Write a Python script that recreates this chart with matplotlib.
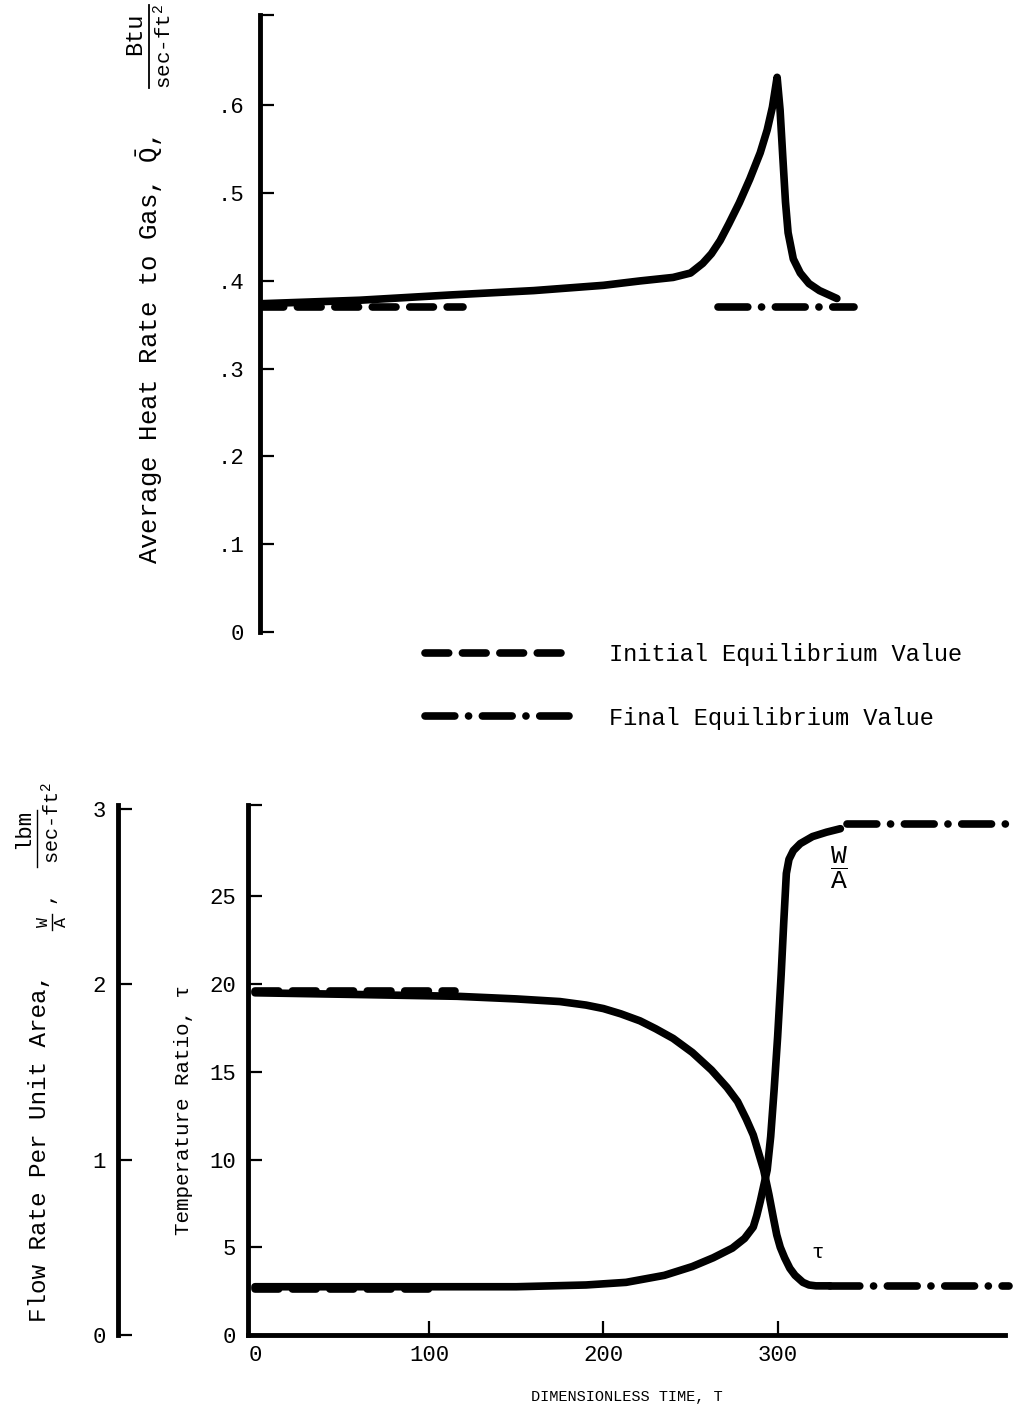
import matplotlib
matplotlib.use('Agg')
import matplotlib.pyplot as plt
from matplotlib.lines import Line2D

# ---------------- data ----------------
# Top panel: average heat rate to gas (Btu/sec-ft^2) vs dimensionless time
heat_T = [3, 60, 112, 160, 200, 221, 240, 250, 257, 262, 267, 272, 278, 284,
          290, 294, 297, 299.7, 301.4, 303, 304.5, 306, 309, 313, 318, 324, 334]
heat_Q = [0.374, 0.378, 0.384, 0.389, 0.395, 0.400, 0.404, 0.409, 0.420, 0.431,
          0.446, 0.465, 0.489, 0.516, 0.546, 0.572, 0.598, 0.632, 0.595, 0.540,
          0.490, 0.455, 0.425, 0.409, 0.397, 0.389, 0.380]
heat_init_T = [3, 119.5]
heat_init_Q = [0.370, 0.370]
heat_final_T = [266, 344]
heat_final_Q = [0.370, 0.370]

# Bottom panel: temperature ratio tau
tau_T = [0, 60, 116, 150, 175, 190, 200, 210, 221, 230, 240, 251, 262, 271,
         277, 282, 286, 289, 292, 295, 297.5, 299.5, 301.5, 304, 307, 310,
         314.5, 318, 322, 330]
tau_vals = [19.5, 19.4, 19.3, 19.15, 19.0, 18.8, 18.6, 18.3, 17.9, 17.45, 16.9,
            16.1, 15.1, 14.1, 13.3, 12.3, 11.4, 10.4, 9.4, 8.0, 6.7, 5.7, 5.0,
            4.4, 3.8, 3.4, 3.0, 2.85, 2.8, 2.8]
tau_init_T = [0, 115]
tau_init = [19.6, 19.6]
tau_final_T = [330, 433]
tau_final = [2.8, 2.8]

# Bottom panel: flow rate per unit area W/A (lbm/sec-ft^2)
wa_T = [0, 100, 150, 190, 213, 235, 251, 263, 274, 281, 286, 288, 290, 292,
        294, 296, 298, 300, 302, 303.5, 305, 306.5, 309, 313, 320, 328, 336]
wa_vals = [0.275, 0.275, 0.275, 0.285, 0.300, 0.340, 0.390, 0.440, 0.495,
           0.550, 0.615, 0.680, 0.760, 0.850, 0.940, 1.130, 1.400, 1.700,
           2.050, 2.350, 2.630, 2.710, 2.760, 2.800, 2.840, 2.865, 2.885]
wa_init_T = [0, 100]
wa_init = [0.26, 0.26]
wa_final_T = [340, 435]
wa_final = [2.91, 2.91]

heat_ticks = [0, 0.1, 0.2, 0.3, 0.4, 0.5, 0.6]
heat_ticklabels = ['0', '.1', '.2', '.3', '.4', '.5', '.6']
tau_ticks = [0, 5, 10, 15, 20, 25]
flow_ticks = [0, 1, 2, 3]
time_ticks = [0, 100, 200, 300]

# ---------------- style ----------------
plt.rcParams['font.family'] = ['Liberation Mono', 'DejaVu Sans']
plt.rcParams['mathtext.fontset'] = 'custom'
plt.rcParams['mathtext.rm'] = 'Liberation Mono'
plt.rcParams['mathtext.it'] = 'Liberation Mono:italic'
plt.rcParams['mathtext.bf'] = 'Liberation Mono:bold'

W, H = 1013, 1427
def fx(p): return p / W
def fy(p): return 1 - p / H
def pt(p): return p * 72 / 100

LW = 5.5
SPINE = 3.5
TICKW = 1.6
TICKLEN = pt(14)
dash_init = (3.1, 1.8)
dash_final = (3.9, 1.8, 0.01, 1.8)
TICKFS = 16

fig = plt.figure(figsize=(W / 100, H / 100), dpi=100)

def vtext(xp, yp, s, size, va='center'):
    fig.text(fx(xp), fy(yp), s, rotation=90, ha='center', va=va, fontsize=size)

def vbar(xp, y0, y1, lw=1.3):
    fig.add_artist(Line2D([fx(xp), fx(xp)], [fy(y0), fy(y1)],
                          transform=fig.transFigure, color='black', lw=lw))

# ---------------- top panel ----------------
ax1 = fig.add_axes([fx(260), fy(632), fx(1005 - 260), (632 - 15) / H])
ax1.set_xlim(2.9, 430.5)
ax1.set_ylim(0, 0.703)
for s in ['top', 'right', 'bottom']:
    ax1.spines[s].set_visible(False)
ax1.spines['left'].set_linewidth(SPINE)
ax1.set_xticks([])
ax1.set_yticks(heat_ticks)
ax1.set_yticklabels(heat_ticklabels)
ax1.set_yticks([0.703], minor=True)
ax1.tick_params(axis='y', which='both', direction='in', length=TICKLEN,
                width=TICKW, labelsize=TICKFS, pad=pt(16))
ax1.plot(heat_T, heat_Q, color='black', lw=LW, solid_capstyle='round',
         solid_joinstyle='round')
l_init, = ax1.plot(heat_init_T, heat_init_Q, color='black', lw=LW,
                   dash_capstyle='round', dashes=dash_init)
l_final, = ax1.plot(heat_final_T, heat_final_Q, color='black', lw=LW,
                    dash_capstyle='round', dashes=dash_final)

# y label of top panel (main text + fraction)
vtext(150, 564, 'Average Heat Rate to Gas, $\\bar{\\mathrm{Q}}$,', 18.5, va='bottom')
vtext(135, 34, 'Btu', 17)
vtext(164, 46, 'sec-ft$^{2}$', 15)
vbar(148.5, 5, 88)

# legend
fig.legend([l_init, l_final],
           ['Initial Equilibrium Value', 'Final Equilibrium Value'],
           loc='upper left', bbox_to_anchor=(fx(425), fy(643)),
           frameon=False, borderpad=0, borderaxespad=0,
           handlelength=6.1, handletextpad=1.7, labelspacing=1.72,
           fontsize=17)

# ---------------- bottom panel ----------------
ax2 = fig.add_axes([fx(248), fy(1335), fx(1005 - 248), (1335 - 805) / H])
ax2.set_xlim(-4.0, 430.5)
ax2.set_ylim(0, 30.2)
for s in ['top', 'right']:
    ax2.spines[s].set_visible(False)
ax2.spines['left'].set_linewidth(SPINE)
ax2.spines['bottom'].set_linewidth(SPINE)
ax2.set_xticks(time_ticks)
ax2.set_yticks(tau_ticks)
ax2.set_yticks([30.2], minor=True)
ax2.tick_params(axis='both', which='both', direction='in', length=TICKLEN,
                width=TICKW, labelsize=TICKFS)
ax2.tick_params(axis='y', pad=pt(12))
ax2.tick_params(axis='x', pad=pt(10))
ax2.xaxis.get_major_ticks()[0].tick1line.set_visible(False)
ax2.yaxis.get_major_ticks()[0].tick1line.set_visible(False)

ax2.plot(tau_T, tau_vals, color='black', lw=LW, solid_capstyle='round',
         solid_joinstyle='round')
ax2.plot(tau_init_T, tau_init, color='black', lw=LW, dash_capstyle='round',
         dashes=dash_init)
ax2.plot(tau_final_T, tau_final, color='black', lw=LW, dash_capstyle='round',
         dashes=dash_final, clip_on=False)

ax2.set_xlabel('DIMENSIONLESS TIME, T', fontsize=11, labelpad=pt(24))
vtext(183, 1110, 'Temperature Ratio, \u03c4', 15)

# flow-rate axis sharing time
ax3 = ax2.twinx()
ax3.set_ylim(0, 3.02)
for s in ['top', 'right', 'bottom']:
    ax3.spines[s].set_visible(False)
ax3.spines['left'].set_visible(True)
ax3.spines['left'].set_position(('outward', pt(130)))
ax3.spines['left'].set_linewidth(SPINE)
ax3.yaxis.set_ticks_position('left')
ax3.yaxis.set_label_position('left')
ax3.set_yticks(flow_ticks)
ax3.tick_params(axis='y', direction='in', length=TICKLEN, width=TICKW,
                labelsize=TICKFS, pad=pt(12))
ax3.plot(wa_T, wa_vals, color='black', lw=LW, solid_capstyle='round',
         solid_joinstyle='round')
ax3.plot(wa_init_T, wa_init, color='black', lw=LW, dash_capstyle='round',
         dashes=dash_init)
ax3.plot(wa_final_T, wa_final, color='black', lw=LW, dash_capstyle='round',
         dashes=dash_final, clip_on=False)

# y label of flow axis (main text + fractions)
vtext(40, 1322, 'Flow Rate Per Unit Area,', 17.5, va='bottom')
vtext(43, 922, 'W', 12)
vbar(52, 914, 930, lw=1.0)
vtext(61, 922, 'A', 12)
vtext(46, 897, ',', 15)
vtext(24, 829, 'lbm', 16)
vbar(37, 810, 867, lw=1.0)
vtext(52, 823, 'sec-ft$^{2}$', 14.5)

# curve labels
ax2.text(335, 26.6, '$\\dfrac{\\mathrm{W}}{\\mathrm{A}}$', ha='center',
         va='center', fontsize=19)
ax2.text(323, 4.7, '\u03c4', ha='center', va='center', fontsize=15)

fig.savefig('out.png', dpi=100)
